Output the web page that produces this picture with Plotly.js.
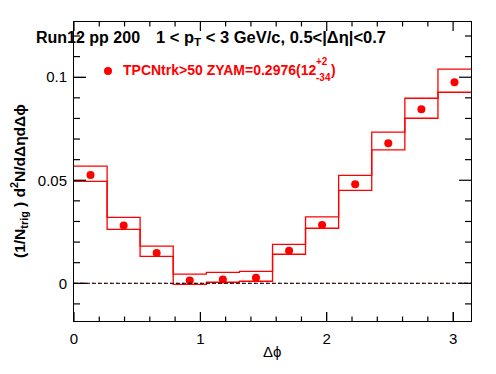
<!DOCTYPE html>
<html>
<head>
<meta charset="utf-8">
<script src="https://cdn.plot.ly/plotly-3.0.1.min.js"></script>
<style>html,body{margin:0;padding:0;background:#fff;}#plot{width:496px;height:374px;}</style>
</head>
<body>
<div id="plot"></div>
<script>
// Δφ bin centres (12 bins over 0..π)
const binCenters = [0.131, 0.393, 0.654, 0.916, 1.178, 1.440, 1.702, 1.963, 2.225, 2.487, 2.749, 3.011];
const binWidth = 0.2618;
// correlation values
const yieldVals = [0.0526, 0.0281, 0.0147, 0.0013, 0.0018, 0.0027, 0.0158, 0.0283, 0.0481, 0.0680, 0.0845, 0.0976];
// systematic band (upper / lower edges)
const sysHigh = [0.0569, 0.0320, 0.0180, 0.0044, 0.0053, 0.0058, 0.0189, 0.0322, 0.0524, 0.0734, 0.0898, 0.1039];
const sysLow  = [0.0495, 0.0262, 0.0131, -0.0005, 0.0005, 0.0010, 0.0141, 0.0267, 0.0451, 0.0647, 0.0801, 0.0927];
// statistical error (tiny)
const statErr = [0.0008, 0.0007, 0.0007, 0.0007, 0.0007, 0.0007, 0.0007, 0.0007, 0.0008, 0.0008, 0.0008, 0.0009];
// tick positions
const xMajorTicks = [0, 1, 2, 3];
const xMinorStep = 0.2;
const yMajorTicks = [0, 0.05, 0.1];
const yTickLabels = ['0', '0.05', '0.1'];
const yMinorStep = 0.01;

const RED = '#ff0000';
const FONT = 'Liberation Sans, Arial, Helvetica, sans-serif';
const X_MAX = Math.PI, Y_MIN = -0.0183, Y_MAX = 0.1268;
const PLOT_W = 397, PLOT_H = 299;
const xPerPx = X_MAX / PLOT_W, yPerPx = (Y_MAX - Y_MIN) / PLOT_H;

const binEdges = binCenters.map(c => c - binWidth / 2).concat([binCenters[binCenters.length - 1] + binWidth / 2]);
const stepY = arr => arr.concat([arr[arr.length - 1]]);

const hiTrace = {x: binEdges, y: stepY(sysHigh), type: 'scatter', mode: 'lines',
  line: {color: RED, width: 1.3, shape: 'hv'}, showlegend: false, hoverinfo: 'skip'};
const loTrace = {x: binEdges, y: stepY(sysLow), type: 'scatter', mode: 'lines',
  line: {color: RED, width: 1.3, shape: 'hv'}, showlegend: false, hoverinfo: 'skip'};
const zeroRed = {x: binEdges, y: binEdges.map(() => 0), type: 'scatter', mode: 'lines',
  line: {color: RED, width: 1, dash: '2px,4px', shape: 'hv'}, showlegend: false, hoverinfo: 'skip'};

const trace = {
  x: binCenters, y: yieldVals, type: 'scatter', mode: 'markers',
  marker: {color: RED, size: 8, symbol: 'circle'},
  error_y: {type: 'data', array: statErr, color: RED, thickness: 1, width: 0},
  showlegend: false, hoverinfo: 'skip'
};

// ROOT-style inside ticks on all four sides, one trace per tick
const tickTraces = [];
function seg(x0, x1, y0, y1) {
  tickTraces.push({x: [x0, x1], y: [y0, y1], type: 'scatter', mode: 'lines',
    line: {color: '#000', width: 1.2}, showlegend: false, hoverinfo: 'skip', cliponaxis: false});
}
function xTick(v, len) {
  const l = len * yPerPx;
  seg(v, v, Y_MIN, Y_MIN + l);
  seg(v, v, Y_MAX, Y_MAX - l);
}
function yTick(v, len) {
  const l = len * xPerPx;
  seg(0, l, v, v);
  seg(X_MAX, X_MAX - l, v, v);
}
for (let k = 0; k * xMinorStep <= X_MAX + 1e-9; k++) {
  const v = Math.round(k * xMinorStep * 1000) / 1000;
  xTick(v, xMajorTicks.some(m => Math.abs(m - v) < 1e-6) ? 9 : 4.5);
}
for (let k = Math.ceil(Y_MIN / yMinorStep); k * yMinorStep <= Y_MAX + 1e-9; k++) {
  const v = Math.round(k * yMinorStep * 10000) / 10000;
  yTick(v, yMajorTicks.some(m => Math.abs(m - v) < 1e-6) ? 12 : 6);
}

const shapes = [];
shapes.push({type: 'line', xref: 'paper', yref: 'y', x0: 0, x1: 1, y0: 0, y1: 0,
  line: {color: '#000', width: 1, dash: '4px,2px'}, layer: 'above'});
shapes.push({type: 'circle', xref: 'paper', yref: 'paper', xsizemode: 'pixel', ysizemode: 'pixel',
  xanchor: (108 - 74) / 397, yanchor: (321 - 71) / 299, x0: -4, x1: 4, y0: -4, y1: 4,
  fillcolor: RED, line: {color: RED, width: 0}});

function px(x) { return (x - 74) / 397; }
function py(y) { return (321 - y) / 299; }

const annotations = [
  {text: '<b>Run12 pp 200</b>', xref: 'paper', yref: 'paper', x: px(34), y: py(38), xanchor: 'left', yanchor: 'middle',
   showarrow: false, font: {family: FONT, size: 16, color: '#000'}},
  {text: '<b>1 < p<sub>T</sub> < 3 GeV/c, 0.5<|Δη|<0.7</b>', xref: 'paper', yref: 'paper', x: px(154), y: py(38), xanchor: 'left', yanchor: 'middle',
   showarrow: false, font: {family: FONT, size: 16.5, color: '#000'}},
  {text: '<b>TPCNtrk>50 ZYAM=0.2976(12</b>', xref: 'paper', yref: 'paper', x: px(121), y: py(70), xanchor: 'left', yanchor: 'middle',
   showarrow: false, font: {family: FONT, size: 14, color: RED}},
  {text: '<b>+2</b>', xref: 'paper', yref: 'paper', x: px(314), y: py(61), xanchor: 'left', yanchor: 'middle',
   showarrow: false, font: {family: FONT, size: 10, color: RED}},
  {text: '<b>-34</b>', xref: 'paper', yref: 'paper', x: px(314), y: py(77), xanchor: 'left', yanchor: 'middle',
   showarrow: false, font: {family: FONT, size: 10, color: RED}},
  {text: '<b>)</b>', xref: 'paper', yref: 'paper', x: px(329), y: py(70), xanchor: 'left', yanchor: 'middle',
   showarrow: false, font: {family: FONT, size: 14, color: RED}},
  {text: 'Δϕ', xref: 'paper', yref: 'paper', x: px(272), y: py(351), xanchor: 'center', yanchor: 'middle',
   showarrow: false, font: {family: FONT, size: 15, color: '#000'}},
  {text: '<b>(1/N<sub>trig</sub> ) d<sup>2</sup>N/dΔηdΔϕ</b>', xref: 'paper', yref: 'paper', x: px(19), y: py(181), xanchor: 'center', yanchor: 'middle',
   textangle: -90, showarrow: false, font: {family: FONT, size: 15.5, color: '#000'}}
];

const layout = {
  width: 496, height: 374,
  margin: {l: 74, r: 25, t: 22, b: 53, pad: 0},
  paper_bgcolor: '#fff', plot_bgcolor: '#fff',
  font: {family: FONT, size: 15, color: '#000'},
  showlegend: false,
  xaxis: {
    range: [0, X_MAX], showgrid: false, zeroline: false,
    showline: true, linecolor: '#000', linewidth: 1, mirror: true,
    tickmode: 'array', tickvals: xMajorTicks, ticktext: xMajorTicks.map(String),
    ticks: 'inside', ticklen: 9, tickwidth: 1, tickcolor: '#000', ticklabelstandoff: 4,
    tickfont: {family: FONT, size: 15, color: '#000'}
  },
  yaxis: {
    range: [Y_MIN, Y_MAX], showgrid: false, zeroline: false,
    showline: true, linecolor: '#000', linewidth: 1, mirror: true,
    tickmode: 'array', tickvals: yMajorTicks, ticktext: yTickLabels,
    ticks: 'inside', ticklen: 12, tickwidth: 1, tickcolor: '#000', ticklabelstandoff: 3,
    tickfont: {family: FONT, size: 15, color: '#000'}
  },
  shapes: shapes,
  annotations: annotations
};

Plotly.newPlot('plot', tickTraces.concat([zeroRed, hiTrace, loTrace, trace]), layout, {staticPlot: true, displayModeBar: false});
</script>
</body>
</html>
